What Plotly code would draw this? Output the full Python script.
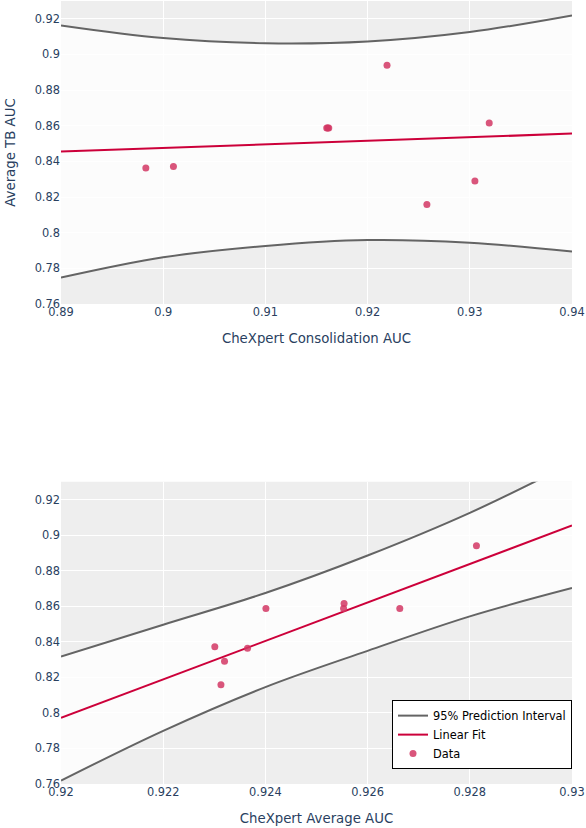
import plotly.graph_objects as go

# data points (same TB AUC, two different CheXpert x metrics)
tb_auc = [0.8372, 0.8290, 0.8158, 0.8363, 0.8587, 0.8615, 0.8587, 0.8587, 0.8940]
consolidation_auc = [0.9010, 0.9305, 0.9258, 0.8983, 0.9161, 0.9319, 0.9160, 0.9162, 0.9219]
average_auc = [0.92301, 0.92320, 0.92313, 0.92365, 0.92401, 0.92554, 0.92553, 0.92663, 0.92813]

# fit and prediction interval
cons_grid = [0.89, 0.90, 0.91, 0.92, 0.93, 0.94]
cons_fit = [0.8455, 0.8475, 0.8496, 0.8516, 0.8536, 0.8556]
cons_upper = [0.9163, 0.9092, 0.9063, 0.9073, 0.9126, 0.9219]
cons_lower = [0.7748, 0.7862, 0.7926, 0.7959, 0.7944, 0.7894]

avg_grid = [0.920, 0.922, 0.924, 0.926, 0.928, 0.930]
avg_fit = [0.7972, 0.8188, 0.8405, 0.8621, 0.8838, 0.9054]
avg_upper = [0.8317, 0.8496, 0.8674, 0.8885, 0.9125, 0.9405]
avg_lower = [0.7619, 0.7899, 0.8145, 0.8349, 0.8543, 0.8702]

GRAY = "rgb(100,100,100)"
RED = "rgb(204,0,58)"
PINK = "rgba(210,55,100,0.85)"
FONT = "Verdana, DejaVu Sans"

fig = go.Figure()


def add_panel(grid, fit, upper, lower, xs, xa, ya, legend):
    fig.add_trace(go.Scatter(x=grid, y=lower, mode="lines", line=dict(width=0, shape="spline"),
                             showlegend=False, hoverinfo="skip", xaxis=xa, yaxis=ya))
    fig.add_trace(go.Scatter(x=grid, y=upper, mode="lines", line=dict(width=0, shape="spline"),
                             fill="tonexty", fillcolor="rgba(255,255,255,0.8)",
                             showlegend=False, hoverinfo="skip", xaxis=xa, yaxis=ya))
    fig.add_trace(go.Scatter(x=grid, y=upper, mode="lines", name="95% Prediction Interval",
                             line=dict(color=GRAY, width=2, shape="spline"),
                             showlegend=legend, xaxis=xa, yaxis=ya))
    fig.add_trace(go.Scatter(x=grid, y=lower, mode="lines", name="95% Prediction Interval",
                             line=dict(color=GRAY, width=2, shape="spline"),
                             showlegend=False, xaxis=xa, yaxis=ya))
    fig.add_trace(go.Scatter(x=grid, y=fit, mode="lines", name="Linear Fit",
                             line=dict(color=RED, width=2),
                             showlegend=legend, xaxis=xa, yaxis=ya))
    fig.add_trace(go.Scatter(x=xs, y=tb_auc, mode="markers", name="Data",
                             marker=dict(color=PINK, size=7),
                             showlegend=legend, xaxis=xa, yaxis=ya))


add_panel(cons_grid, cons_fit, cons_upper, cons_lower, consolidation_auc, "x", "y", False)
add_panel(avg_grid, avg_fit, avg_upper, avg_lower, average_auc, "x2", "y2", True)

axis_style = dict(showgrid=True, gridcolor="white", gridwidth=1, zeroline=False,
                  tickfont=dict(size=11.4, family=FONT, color="#2a3f5f"))

fig.update_layout(
    width=586, height=828,
    margin=dict(l=61, r=14, t=1, b=44),
    paper_bgcolor="white",
    plot_bgcolor="rgb(238,238,238)",
    font=dict(family=FONT, color="#2a3f5f"),
    xaxis=dict(domain=[0, 1], anchor="y", range=[0.89, 0.94], dtick=0.01,
               title=dict(text="CheXpert Consolidation AUC", font=dict(size=13.3)), **axis_style),
    yaxis=dict(domain=[0.613, 1], anchor="x", range=[0.76, 0.93], dtick=0.02,
               title=dict(text="Average TB AUC", font=dict(size=13.3)), **axis_style),
    xaxis2=dict(domain=[0, 1], anchor="y2", range=[0.92, 0.93], dtick=0.002,
                title=dict(text="CheXpert Average AUC", font=dict(size=13.3)), **axis_style),
    yaxis2=dict(domain=[0, 0.386], anchor="x2", range=[0.76, 0.93], dtick=0.02, **axis_style),
    legend=dict(x=1, xanchor="right", y=0.019, yanchor="bottom", traceorder="normal",
                bgcolor="white", bordercolor="black", borderwidth=1, tracegroupgap=0,
                font=dict(size=11.4, family=FONT, color="black")),
)

# page body has a default 8px margin; drop it so the figure sits at the corner
fig.write_html("out.html", config={"displayModeBar": False},
               post_script="document.body.style.margin='0';")
